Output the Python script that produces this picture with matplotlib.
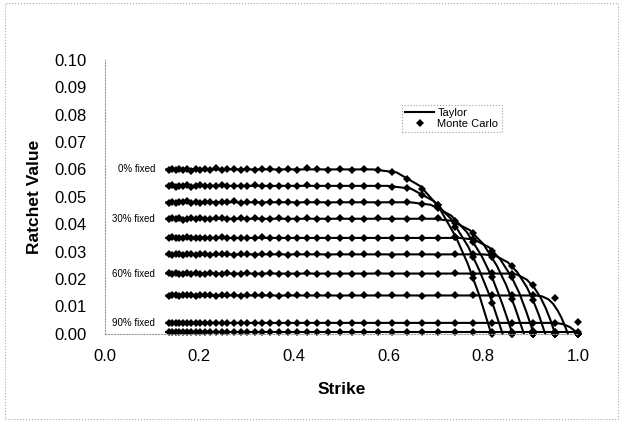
import matplotlib
matplotlib.use('Agg')
from matplotlib import pyplot as plt
from matplotlib.patches import Rectangle

plt.rcParams['font.family'] = ['Liberation Sans', 'DejaVu Sans']

# strike grid of the Monte Carlo runs
strikes = [0.135, 0.142, 0.150, 0.157, 0.165, 0.174, 0.183, 0.192, 0.202, 0.212,
           0.223, 0.235, 0.247, 0.259, 0.273, 0.287, 0.301, 0.317, 0.333, 0.350,
           0.368, 0.387, 0.407, 0.427, 0.449, 0.472, 0.497, 0.522, 0.549, 0.577,
           0.607, 0.638, 0.670, 0.705, 0.741, 0.779, 0.819, 0.861, 0.905, 0.951, 1.000]

# Taylor curves, one (strike, value) list per fixed fraction
taylor_x = [
    [0.13, 0.567, 0.617, 0.667, 0.705, 0.742, 0.767, 0.792, 0.817],
    [0.13, 0.598, 0.647, 0.695, 0.732, 0.768, 0.792, 0.817, 0.841],
    [0.13, 0.646, 0.689, 0.732, 0.765, 0.797, 0.819, 0.840, 0.862],
    [0.13, 0.696, 0.734, 0.772, 0.801, 0.829, 0.848, 0.867, 0.886],
    [0.13, 0.750, 0.781, 0.813, 0.836, 0.860, 0.876, 0.891, 0.907],
    [0.13, 0.800, 0.826, 0.852, 0.872, 0.892, 0.905, 0.918, 0.931],
    [0.13, 0.852, 0.872, 0.892, 0.907, 0.922, 0.932, 0.942, 0.952],
    [0.13, 0.910, 0.924, 0.938, 0.948, 0.958, 0.965, 0.972, 0.979],
    [0.13, 0.945, 0.956, 0.967, 0.975, 0.984, 0.989, 0.995, 1.000],
    [0.13, 1.000],
]
taylor_y = [
    [0.0600, 0.0600, 0.0589, 0.0539, 0.0466, 0.0354, 0.0257, 0.0139, 0.0],
    [0.0540, 0.0540, 0.0530, 0.0485, 0.0419, 0.0319, 0.0231, 0.0125, 0.0],
    [0.0480, 0.0480, 0.0471, 0.0432, 0.0372, 0.0283, 0.0205, 0.0111, 0.0],
    [0.0420, 0.0420, 0.0412, 0.0378, 0.0326, 0.0248, 0.0180, 0.0097, 0.0],
    [0.0350, 0.0350, 0.0344, 0.0315, 0.0272, 0.0207, 0.0150, 0.0081, 0.0],
    [0.0290, 0.0290, 0.0285, 0.0261, 0.0225, 0.0171, 0.0124, 0.0067, 0.0],
    [0.0220, 0.0220, 0.0216, 0.0198, 0.0171, 0.0130, 0.0094, 0.0051, 0.0],
    [0.0140, 0.0140, 0.0137, 0.0126, 0.0109, 0.0083, 0.0060, 0.0032, 0.0],
    [0.0040, 0.0040, 0.0039, 0.0036, 0.0031, 0.0024, 0.0017, 0.0009, 0.0],
    [0.0005, 0.0005],
]

# Monte Carlo values on the strike grid
mc_y = [
    [.0597, .0601, .0599, .0603, .0598, .0600, .0596, .0602, .0599, .0601,
     .0598, .0604, .0597, .0600, .0602, .0598, .0601, .0599, .0603, .0600,
     .0598, .0601, .0599, .0605, .0600, .0598, .0601, .0599, .0603, .0598,
     .0592, .0566, .0530, .0470, .0352, .0205, 0, 0, 0, 0, 0],
    [.0538, .0542, .0535, .0541, .0539, .0543, .0537, .0540, .0542, .0538,
     .0541, .0539, .0543, .0540, .0538, .0541, .0539, .0542, .0540, .0538,
     .0541, .0539, .0540, .0542, .0538, .0541, .0539, .0540, .0541, .0539,
     .0536, .0533, .0506, .0470, .0390, .0282, .0112, 0, 0, 0, 0],
    [.0479, .0482, .0478, .0481, .0480, .0483, .0479, .0481, .0478, .0480,
     .0482, .0479, .0481, .0480, .0484, .0479, .0481, .0480, .0478, .0481,
     .0480, .0482, .0479, .0481, .0480, .0479, .0481, .0480, .0481, .0479,
     .0482, .0480, .0474, .0459, .0413, .0335, .0208, 0, 0, 0, 0],
    [.0418, .0422, .0419, .0421, .0417, .0420, .0423, .0419, .0421, .0420,
     .0418, .0421, .0424, .0419, .0420, .0422, .0419, .0421, .0420, .0418,
     .0421, .0420, .0419, .0422, .0420, .0419, .0421, .0420, .0420, .0421,
     .0419, .0420, .0421, .0421, .0405, .0368, .0279, .0126, 0, 0, 0],
    [.0349, .0352, .0348, .0351, .0350, .0353, .0349, .0351, .0350, .0348,
     .0351, .0350, .0352, .0349, .0350, .0351, .0349, .0350, .0352, .0350,
     .0349, .0351, .0350, .0349, .0351, .0350, .0350, .0351, .0350, .0349,
     .0351, .0350, .0349, .0351, .0352, .0345, .0301, .0206, .0012, 0, 0],
    [.0291, .0288, .0290, .0292, .0289, .0290, .0291, .0289, .0290, .0292,
     .0289, .0290, .0291, .0290, .0289, .0291, .0290, .0289, .0290, .0291,
     .0290, .0289, .0290, .0291, .0290, .0289, .0290, .0290, .0290, .0291,
     .0289, .0290, .0290, .0289, .0290, .0291, .0287, .0247, .0122, 0, 0],
    [.0221, .0219, .0222, .0220, .0219, .0221, .0220, .0222, .0219, .0220,
     .0221, .0220, .0219, .0221, .0220, .0220, .0221, .0219, .0220, .0221,
     .0220, .0219, .0220, .0221, .0220, .0220, .0219, .0220, .0220, .0221,
     .0220, .0219, .0220, .0220, .0221, .0220, .0221, .0219, .0178, .0008, 0],
    [.0139, .0141, .0140, .0139, .0141, .0140, .0140, .0139, .0141, .0140,
     .0140, .0139, .0140, .0141, .0140, .0139, .0140, .0140, .0141, .0140,
     .0139, .0140, .0140, .0141, .0140, .0140, .0139, .0140, .0140, .0141,
     .0140, .0140, .0139, .0140, .0140, .0141, .0140, .0140, .0141, .0130, 0],
    [.0041, .0039, .0040, .0041, .0040, .0039, .0040, .0041, .0040, .0040,
     .0039, .0040, .0041, .0040, .0040, .0039, .0040, .0041, .0040, .0040,
     .0039, .0040, .0040, .0041, .0040, .0040, .0039, .0040, .0040, .0041,
     .0040, .0040, .0039, .0040, .0041, .0040, .0040, .0039, .0040, .0038, .0045],
    [.0005] * 41,
]

row_labels = {0: '0% fixed', 3: '30% fixed', 6: '60% fixed', 8: '90% fixed'}

fig = plt.figure(figsize=(6.2, 4.21), dpi=100)
ax = fig.add_axes([0.169, 0.207, 0.763, 0.651])

for i in range(len(taylor_x)):
    ax.plot(taylor_x[i], taylor_y[i], '-', c='black', lw=1.5,
            label='Taylor' if i == 0 else None, clip_on=False)
    ax.plot(strikes, mc_y[i], 'D', c='black', ms=3.6, mew=0,
            label='Monte Carlo' if i == 0 else None, clip_on=False)

for i, txt in row_labels.items():
    ax.text(0.106, taylor_y[i][0], txt, ha='right', va='center', fontsize=7)

ax.set_xlim(0, 1.0)
ax.set_ylim(0, 0.10)
ax.set_xticks([0.0, 0.2, 0.4, 0.6, 0.8, 1.0])
ax.set_yticks([i / 100 for i in range(11)])
ax.xaxis.set_major_formatter(matplotlib.ticker.FormatStrFormatter('%.1f'))
ax.yaxis.set_major_formatter(matplotlib.ticker.FormatStrFormatter('%.2f'))
ax.tick_params(length=0, labelsize=12, pad=11)
ax.tick_params(axis='y', pad=13)

for s in ['top', 'right']:
    ax.spines[s].set_visible(False)
for s in ['left', 'bottom']:
    ax.spines[s].set_linestyle(':')
    ax.spines[s].set_color('#999999')
    ax.spines[s].set_linewidth(0.8)

ax.set_xlabel('Strike', fontsize=12.5, fontweight='bold', labelpad=13)
ax.set_ylabel('Ratchet Value', fontsize=12.5, fontweight='bold', labelpad=9)

leg = ax.legend(loc='upper left', bbox_to_anchor=(0.628, 0.836), fontsize=8,
                frameon=True, fancybox=False, borderpad=0.3, labelspacing=0.05,
                handlelength=2.6, handletextpad=0.3, borderaxespad=0)
leg.get_frame().set_linestyle(':')
leg.get_frame().set_edgecolor('#888888')
leg.get_frame().set_linewidth(0.8)

fig.patches.append(Rectangle((0.008, 0.004), 0.988, 0.99, transform=fig.transFigure,
                             fill=False, ls=':', lw=0.8, ec='#aaaaaa'))

fig.savefig('out.png', dpi=100)
